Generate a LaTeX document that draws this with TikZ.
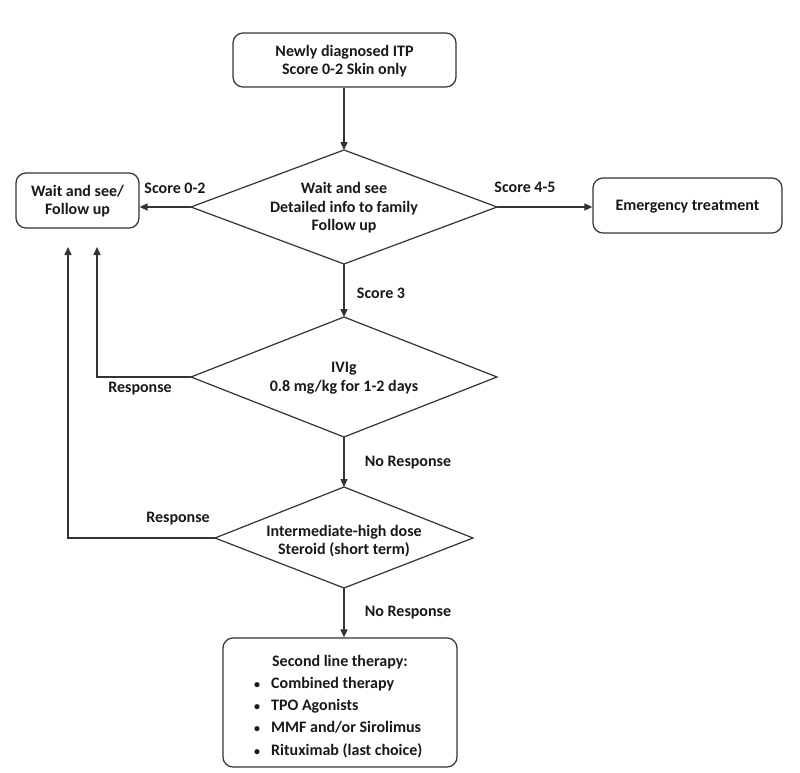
\documentclass[tikz,border=0pt]{standalone}
\usepackage{fontspec}
\setmainfont{Carlito}
\usetikzlibrary{arrows.meta}
\begin{document}
\begin{tikzpicture}[x=1pt,y=-1pt,
  line/.style={draw=black!80, line width=1.5pt},
  arr/.style={line, -{Triangle[length=8pt,width=7pt]}},
  box/.style={draw=black!80, line width=1.2pt, rounded corners=10pt, inner sep=0pt},
  dia/.style={draw=black!80, line width=1.2pt},
  txt/.style={font=\fontsize{16}{18.5}\selectfont\bfseries, align=center, text=black!90, inner sep=0pt},
  lbl/.style={font=\fontsize{16}{18}\selectfont\bfseries, text=black!90, inner sep=0pt}]
\useasboundingbox (0,0) rectangle (800,773);
\fill[white] (0,0) rectangle (800,773);
% boxes
\node[box, minimum width=223pt, minimum height=54pt] (top) at (344.5,60) {};
\node[txt] (toptxt) at (344.5,61) {Newly diagnosed ITP\\Score 0-2 Skin only};
\node[box, minimum width=123pt, minimum height=55pt] (wait) at (77.5,200.5) {};
\node[txt] (waittxt) at (77.5,201) {Wait and see/\\Follow up};
\node[box, minimum width=189pt, minimum height=55pt] (emerg) at (687.5,205.5) {};
\node[txt] (emergtxt) at (687.5,207) {Emergency treatment};
\node[box, minimum width=234pt, minimum height=129pt] (second) at (340,702.5) {};
\node[txt] (sectitle) at (340,662) {Second line therapy:};
\node[txt, anchor=north west, align=left, font=\fontsize{16}{22.3}\selectfont\bfseries] (seclist) at (254,672.5)
  {\begin{tabular}{@{}l@{\hspace{11pt}}l@{}}
   \scalebox{0.75}{\textbullet} & Combined therapy\\
   \scalebox{0.75}{\textbullet} & TPO Agonists\\
   \scalebox{0.75}{\textbullet} & MMF and/or Sirolimus\\
   \scalebox{0.75}{\textbullet} & Rituximab (last choice)
   \end{tabular}};
% diamond 1
\coordinate (d1t) at (344,150);
\coordinate (d1b) at (344,264);
\coordinate (d1l) at (191,207);
\coordinate (d1r) at (497,207);
\draw[dia] (d1t) -- (d1r) -- (d1b) -- (d1l) -- cycle;
\node[txt] (d1) at (344,208) {Wait and see\\Detailed info to family\\Follow up};
% diamond 2
\coordinate (d2t) at (344,317);
\coordinate (d2b) at (344,437);
\coordinate (d2l) at (191,377);
\coordinate (d2r) at (497,377);
\draw[dia] (d2t) -- (d2r) -- (d2b) -- (d2l) -- cycle;
\node[txt] (d2) at (344,378) {IVIg\\0.8 mg/kg for 1-2 days};
% diamond 3
\coordinate (d3t) at (344,487);
\coordinate (d3b) at (344,588);
\coordinate (d3l) at (215,538);
\coordinate (d3r) at (473,538);
\draw[dia] (d3t) -- (d3r) -- (d3b) -- (d3l) -- cycle;
\node[txt] (d3) at (344,541) {Intermediate-high dose\\Steroid (short term)};
% connectors
\draw[arr] (top.south -| d1t) -- (d1t);
\draw[arr] (d1l) -- (d1l -| wait.east);
\draw[arr] (d1r) -- (d1r -| emerg.west);
\draw[arr] (d1b) -- (d2t);
\draw[arr] (d2b) -- (d3t);
\draw[arr] (d3b) -- (second.north -| d3b);
\coordinate (r1) at (97,247);
\coordinate (r2) at (68,247);
\draw[arr] (d2l) -| (r1);
\draw[arr] (d3l) -| (r2);
% labels
\node[lbl] (l1) at (175,188) {Score 0-2};
\node[lbl] (l2) at (525,187) {Score 4-5};
\node[lbl] (l3) at (381,293) {Score 3};
\node[lbl] (l4) at (140,389) {Response};
\node[lbl] (l5) at (408,463) {No Response};
\node[lbl] (l6) at (178,519) {Response};
\node[lbl] (l7) at (408,613) {No Response};
\end{tikzpicture}
\end{document}
